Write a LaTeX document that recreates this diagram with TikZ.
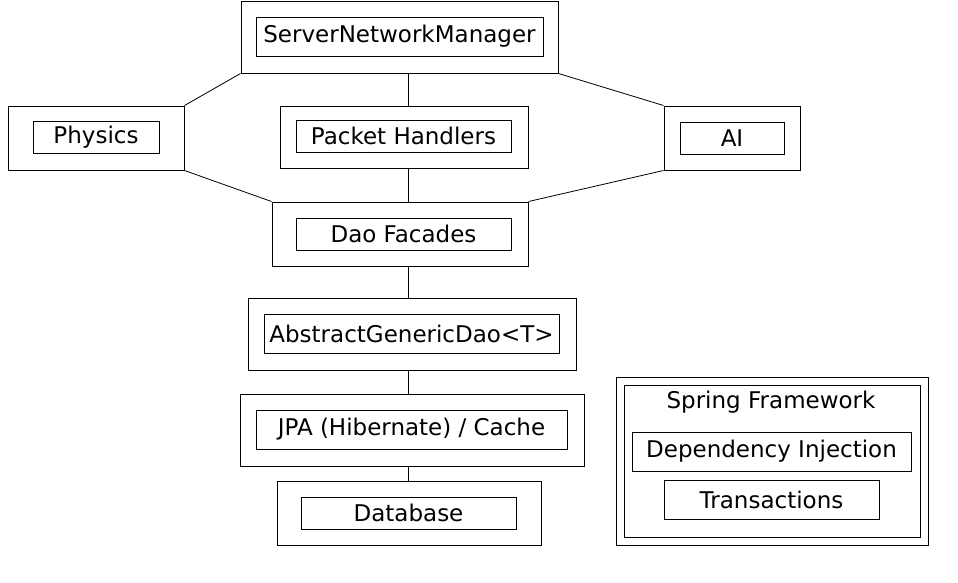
\documentclass[tikz,border=0pt]{standalone}
\usepackage{fontspec}
\setmainfont{DejaVu Sans}
\begin{document}
\begin{tikzpicture}[x=1pt,y=-1pt,
  outer/.style={draw,line width=1pt,rectangle,inner sep=0pt},
  inner/.style={draw,line width=1pt,rectangle,inner sep=0pt,font=\fontsize{23}{27}\selectfont},
  lbl/.style={inner sep=0pt,font=\fontsize{23}{27}\selectfont},
  conn/.style={line width=0.8pt}]
\useasboundingbox (0,0) rectangle (958,582);
\fill[white] (0,0) rectangle (958,582);
% outer boxes
\node[outer,minimum width=317pt,minimum height=72pt] (snm) at (399.5,37) {};
\node[outer,minimum width=176pt,minimum height=64pt] (phys) at (96,138) {};
\node[outer,minimum width=248pt,minimum height=62pt] (ph) at (404,137) {};
\node[outer,minimum width=136pt,minimum height=64pt] (ai) at (732,138) {};
\node[outer,minimum width=256pt,minimum height=64pt] (df) at (400,234) {};
\node[outer,minimum width=328pt,minimum height=72pt] (agd) at (412,334) {};
\node[outer,minimum width=344pt,minimum height=72pt] (jpa) at (412,430) {};
\node[outer,minimum width=264pt,minimum height=64pt] (db) at (409,513) {};
\node[outer,minimum width=312pt,minimum height=168pt] (spo) at (772,461) {};
\node[outer,minimum width=296pt,minimum height=152pt] (spi) at (772,461) {};
% inner boxes
\node[inner,minimum width=287pt,minimum height=39pt] (snmi) at (399.5,36.5) {ServerNetworkManager};
\node[inner,minimum width=126pt,minimum height=32pt] (physi) at (96,137) {Physics};
\node[inner,minimum width=215pt,minimum height=32pt] (phi) at (403.5,136) {Packet Handlers};
\node[inner,minimum width=104pt,minimum height=32pt] (aii) at (732,138) {AI};
\node[inner,minimum width=215pt,minimum height=32pt] (dfi) at (403.5,234) {Dao Facades};
\node[inner,minimum width=295pt,minimum height=39pt] (agdi) at (411.5,333.5) {AbstractGenericDao<T>};
\node[inner,minimum width=311pt,minimum height=39pt] (jpai) at (411.5,429.5) {JPA (Hibernate) / Cache};
\node[inner,minimum width=215pt,minimum height=32pt] (dbi) at (408.5,513) {Database};
\node[lbl] (spl) at (771,402) {Spring Framework};
\node[inner,minimum width=279pt,minimum height=39pt] (di) at (771.5,451.5) {Dependency Injection};
\node[inner,minimum width=215pt,minimum height=39pt] (tr) at (771.5,499.5) {Transactions};
% connectors
\coordinate (spine) at (408,0);
\draw[conn] (snm.south west) -- (phys.north east);
\draw[conn] (snm.south -| spine) -- (ph.north -| spine);
\draw[conn] (snm.south east) -- (ai.north west);
\draw[conn] (phys.south east) -- (df.north west);
\draw[conn] (ph.south -| spine) -- (df.north -| spine);
\draw[conn] (ai.south west) -- (df.north east);
\draw[conn] (df.south -| spine) -- (agd.north -| spine);
\draw[conn] (agd.south -| spine) -- (jpa.north -| spine);
\draw[conn] (jpa.south -| spine) -- (db.north -| spine);
\end{tikzpicture}
\end{document}
